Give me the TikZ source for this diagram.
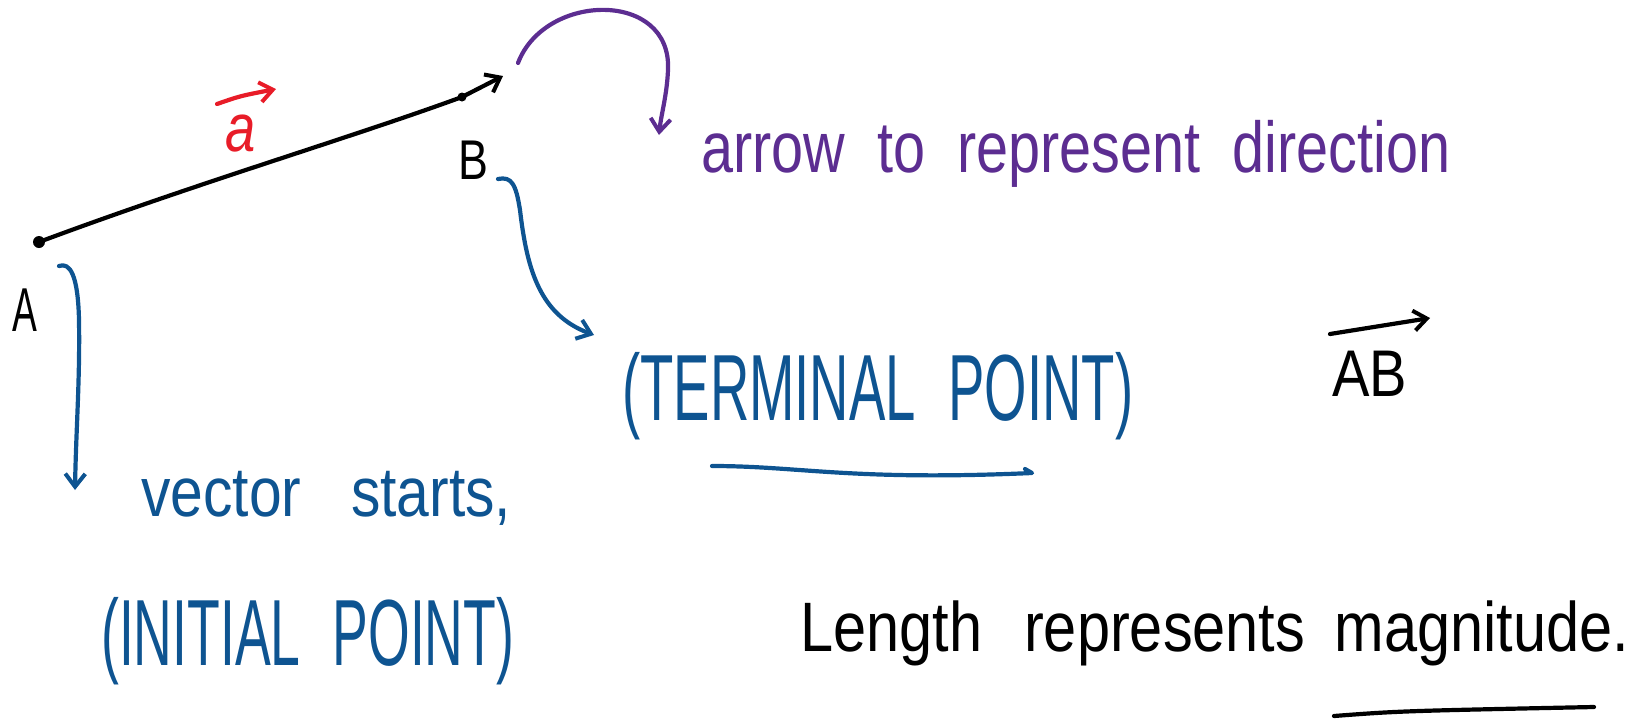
\documentclass[tikz,border=0pt]{standalone}
\usepackage{fontspec}
\setmainfont{Liberation Sans}
\usetikzlibrary{arrows.meta}
\definecolor{inkblue}{RGB}{14,84,145}
\definecolor{inkpurple}{RGB}{92,45,145}
\definecolor{inkred}{RGB}{232,28,40}
\begin{document}
\begin{tikzpicture}[x=1pt,y=-1pt,line cap=round,line join=round,
  ink/.style={line width=4.2pt},
  barb/.style={-{Straight Barb[length=13pt,width=20pt,line width=4pt]}},
  txt/.style={inner sep=0pt,anchor=base west},
]
\useasboundingbox (0,0) rectangle (1634,721);
% main vector
\coordinate (Adot) at (39,242);
\coordinate (Bdot) at (462,97);
\coordinate (tip) at (503,76);
\fill (Adot) circle (6);
\fill (Bdot) circle (4.5);
\draw[ink,barb] (Adot) .. controls (200,182) and (350,138) .. (Bdot) -- (tip);
\node[txt,font=\fontsize{62}{62}\selectfont] (Alab) at (12,331) {\scalebox{0.6}[1]{A}};
\node[txt,font=\fontsize{56}{56}\selectfont] (Blab) at (458,179) {\scalebox{0.8}[1]{B}};
% red a with arrow
\node[txt,text=inkred,font=\fontsize{68}{68}\selectfont\itshape] (avec) at (225,151) {\scalebox{0.8}[1]{a}};
\coordinate (ra1) at (217,104);
\coordinate (ra2) at (276,89);
\draw[inkred,ink,barb] (ra1) .. controls (240,96) .. (ra2);
% purple
\coordinate (pstart) at (518,63);
\coordinate (pend) at (659,135);
\draw[inkpurple,ink,barb] (pstart) .. controls (545,-8) and (672,-10) .. (668,70) .. controls (667,95) and (661,115) .. (pend);
\node[txt,text=inkpurple,font=\fontsize{72}{72}\selectfont] (dirtext) at (701,172) {\scalebox{0.8}[1]{arrow\hspace{20pt} to\hspace{20pt} represent\hspace{20pt} direction}};
% blue from B
\coordinate (bstart) at (498,179);
\coordinate (bend) at (594,335);
\draw[inkblue,ink,barb] (bstart) .. controls (512,176) and (516,185) .. (520,210) .. controls (527,270) and (540,315) .. (bend);
\node[txt,text=inkblue,font=\fontsize{94}{94}\selectfont] (term) at (622,420) {\scalebox{0.58}[1]{(TERMINAL\hspace{30pt} POINT)}};
\coordinate (u1) at (712,466);
\coordinate (u2) at (1032,473);
\draw[inkblue,ink] (u1) .. controls (800,466) and (850,481) .. (u2) -- ++(-7,-4);
% blue from A
\coordinate (astart) at (59,266);
\coordinate (aend) at (75,490);
\draw[inkblue,ink,barb] (astart) .. controls (70,262) and (78,275) .. (79,320) .. controls (80,380) and (76,430) .. (aend);
\node[txt,text=inkblue,font=\fontsize{70}{70}\selectfont] (vstart) at (141,516) {\scalebox{0.84}[1]{vector\hspace{40pt} starts,}};
\node[txt,text=inkblue,font=\fontsize{94}{94}\selectfont] (init) at (101,665) {\scalebox{0.57}[1]{(INITIAL\hspace{30pt} POINT)}};
% AB
\node[txt,font=\fontsize{66}{66}\selectfont] (AB) at (1332,396) {\scalebox{0.85}[1]{AB}};
\coordinate (ab1) at (1330,334);
\coordinate (ab2) at (1430,318);
\draw[ink,barb] (ab1) -- (ab2);
% magnitude
\node[txt,font=\fontsize{70}{70}\selectfont] (mag) at (800,651) {\scalebox{0.85}[1]{Length\hspace{30pt} represents\hspace{15pt} magnitude.}};
\coordinate (m1) at (1334,716);
\coordinate (m2) at (1594,707);
\draw[ink] (m1) .. controls (1400,711) .. (m2);
\end{tikzpicture}
\end{document}
